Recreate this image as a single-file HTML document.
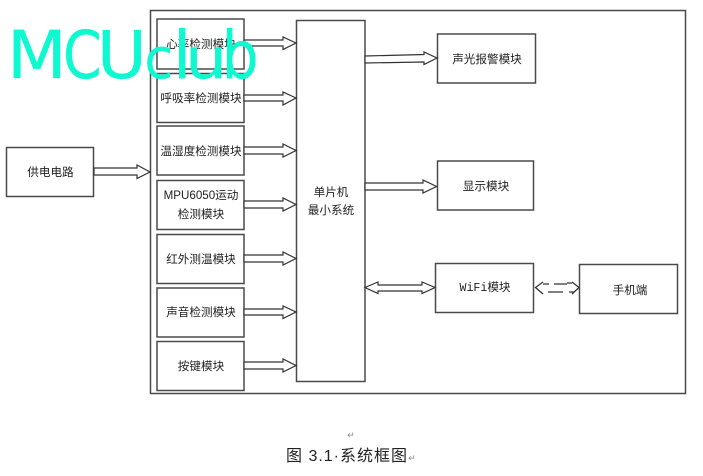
<!DOCTYPE html>
<html><head><meta charset="utf-8"><style>
html,body{margin:0;padding:0;background:#fff}
svg{display:block}
text{font-family:"Liberation Sans","Noto Sans CJK SC",sans-serif;font-size:11.6px;fill:#222;text-anchor:middle}
.b{fill:#fff;stroke:#4a4a4a;stroke-width:1.5}
.a{fill:#fff;stroke:#333;stroke-width:1.2;stroke-linejoin:miter}
text.w{font-family:"DejaVu Sans",sans-serif;font-size:66px;fill:#0ef9d0;stroke:#0ef9d0;stroke-width:.3;stroke-linejoin:round;text-anchor:start}
</style></head><body>
<svg width="703" height="476" viewBox="0 0 703 476" xmlns="http://www.w3.org/2000/svg">
<rect class="b" x="150.500" y="10.500" width="535" height="383"/>
<rect class="b" x="6.500" y="147.500" width="87" height="49"/>
<rect class="b" x="157" y="19" width="87" height="50"/>
<rect class="b" x="157" y="73.500" width="87" height="49"/>
<rect class="b" x="157" y="126" width="87" height="49"/>
<rect class="b" x="157" y="180.500" width="87" height="49"/>
<rect class="b" x="157" y="234.500" width="87" height="49"/>
<rect class="b" x="157" y="288" width="87" height="49"/>
<rect class="b" x="157" y="341.500" width="87" height="49"/>
<rect class="b" x="296.500" y="20.500" width="68.500" height="361"/>
<rect class="b" x="437.500" y="34" width="98" height="49"/>
<rect class="b" x="437.500" y="161" width="96" height="49"/>
<rect class="b" x="435.500" y="263.500" width="98" height="49"/>
<rect class="b" x="579.500" y="264.500" width="98" height="49"/>

<path class="a" d="M94 168H137V165L150 172 137 178.500V175H94Z"/>
<path class="a" d="M244 40H283V37L296 43 283 49.500V46H244Z"/>
<path class="a" d="M244 95H283V92L296 98 283 105V101H244Z"/>
<path class="a" d="M244 147H283V144L296 150.500 283 157V154H244Z"/>
<path class="a" d="M244 201H283V198L296 204.500 283 211V208H244Z"/>
<path class="a" d="M244 255H283V252L296 258.500 283 265V262H244Z"/>
<path class="a" d="M244 309H283V306L296 312 283 318.500V315H244Z"/>
<path class="a" d="M244 362H283V359L296 365.500 283 372V369H244Z"/>
<path class="a" d="M365 56L424 54.500V52L437 58 424 64.500V62L365 63Z"/>
<path class="a" d="M365 183H423V180L436.500 186.500 423 193V190H365Z"/>
<path class="a" d="M365 287.500L378 282V285H422V282L435 287.500 422 293.500V291H378V293.500Z"/>
<path d="M543 282L535.500 287.500 543 294M543 284H549M548 292H563M554 284H567M569 292H574M567 283H572M572 282L579 287.500 572 294" fill="none" stroke="#333" stroke-width="1.3"/>

<text x="201" y="48">心率检测模块</text>
<text x="201" y="102">呼吸率检测模块</text>
<text x="201" y="155">温湿度检测模块</text>
<text x="201" y="199">MPU6050运动</text>
<text x="201" y="218">检测模块</text>
<text x="201" y="263">红外测温模块</text>
<text x="201" y="316">声音检测模块</text>
<text x="201" y="370">按键模块</text>
<text x="50.500" y="176">供电电路</text>
<text x="331" y="196">单片机</text>
<text x="331" y="214">最小系统</text>
<text x="487" y="63">声光报警模块</text>
<text x="486" y="190">显示模块</text>
<text x="485" y="291" style='font-family:"Liberation Mono","Noto Sans CJK SC",monospace'>WiFi模块</text>
<text x="630" y="294">手机端</text>
<text x="351" y="438" style="font-size:9px;fill:#888">↵</text>
<text x="286" y="461" textLength="121" lengthAdjust="spacing" style="font-size:16px;text-anchor:start">图 3.1·系统框图</text>
<text x="412" y="461" style="font-size:9px;fill:#888">↵</text>
<text class="w" transform="translate(7 78) scale(1.05 1)">M</text>
<text class="w" transform="translate(63 78) scale(.84 1)">C</text>
<text class="w" transform="translate(97 78) scale(1.03 1)">U</text>
<text class="w" transform="translate(144.500 78) scale(.79 .85)">c</text>
<text class="w" transform="translate(173 78)">l</text>
<text class="w" transform="translate(185.300 78) scale(1 .85)">u</text>
<text class="w" transform="translate(221.700 78) scale(.88 1)">b</text>
</svg>
</body></html>
